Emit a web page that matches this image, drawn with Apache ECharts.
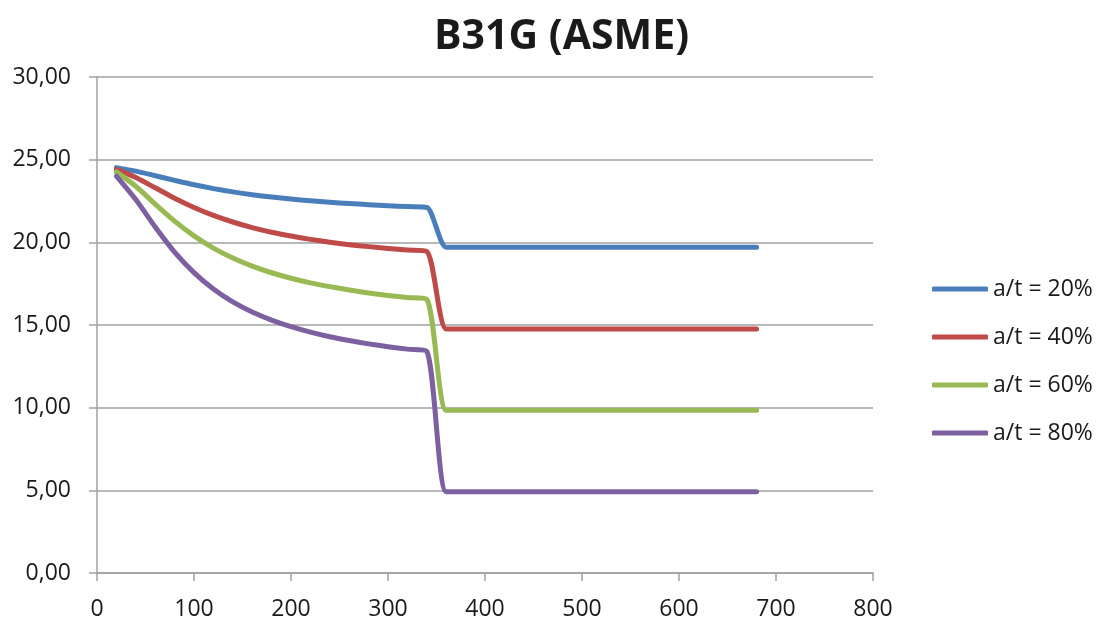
<!DOCTYPE html>
<html>
<head>
<meta charset="utf-8">
<title>B31G (ASME)</title>
<script src="https://cdn.jsdelivr.net/npm/echarts@6/dist/echarts.min.js"></script>
<style>
  html, body { margin: 0; padding: 0; background: #fff; }
  #chart { width: 1098px; height: 621px; }
</style>
</head>
<body>
<div id="chart"></div>
<script>
// defect length (x) - one point every 20
var lengths = [20, 40, 60, 80, 100, 120, 140, 160, 180, 200, 220, 240, 260, 280, 300, 320, 340,
  360, 380, 400, 420, 440, 460, 480, 500, 520, 540, 560, 580, 600, 620, 640, 660, 680]

var at20 = [24.52, 24.31, 24.03, 23.75, 23.48, 23.25, 23.05, 22.88, 22.74, 22.62, 22.51, 22.42, 22.35, 22.28, 22.22, 22.16, 22.11,
  19.70, 19.70, 19.70, 19.70, 19.70, 19.70, 19.70, 19.70, 19.70, 19.70, 19.70, 19.70, 19.70, 19.70, 19.70, 19.70, 19.70]
var at40 = [24.41, 23.92, 23.30, 22.67, 22.11, 21.63, 21.23, 20.89, 20.61, 20.38, 20.18, 20.01, 19.86, 19.74, 19.63, 19.53, 19.45,
  14.76, 14.76, 14.76, 14.76, 14.76, 14.76, 14.76, 14.76, 14.76, 14.76, 14.76, 14.76, 14.76, 14.76, 14.76, 14.76, 14.76]
var at60 = [24.26, 23.39, 22.31, 21.28, 20.39, 19.65, 19.05, 18.56, 18.16, 17.83, 17.55, 17.32, 17.12, 16.94, 16.79, 16.66, 16.55,
  9.84, 9.84, 9.84, 9.84, 9.84, 9.84, 9.84, 9.84, 9.84, 9.84, 9.84, 9.84, 9.84, 9.84, 9.84, 9.84, 9.84]
var at80 = [24.01, 22.59, 20.93, 19.41, 18.17, 17.18, 16.40, 15.79, 15.30, 14.90, 14.57, 14.29, 14.06, 13.86, 13.69, 13.54, 13.41,
  4.92, 4.92, 4.92, 4.92, 4.92, 4.92, 4.92, 4.92, 4.92, 4.92, 4.92, 4.92, 4.92, 4.92, 4.92, 4.92, 4.92]

var seriesNames = ['a/t = 20%', 'a/t = 40%', 'a/t = 60%', 'a/t = 80%']
var seriesColors = ['#4a7ebb', '#be4b48', '#98b954', '#7d60a0']

function pairs(ys) {
  return lengths.map(function (x, i) { return [x, ys[i]] })
}

var font = '"Open Sans", "Noto Sans", sans-serif'
var gray = '#a0a0a0'

var allSeries = [at20, at40, at60, at80].map(function (ys, i) {
  return {
    name: seriesNames[i],
    type: 'line',
    data: pairs(ys),
    smooth: 0.24,
    showSymbol: false,
    lineStyle: { width: 5, color: seriesColors[i], cap: 'round', join: 'round' },
    itemStyle: { color: seriesColors[i] }
  }
})

var chart = echarts.init(document.getElementById('chart'))
chart.setOption({
  animation: false,
  title: {
    text: 'B31G (ASME)',
    left: 434,
    top: 17,
    padding: 0,
    textStyle: { fontFamily: font, fontWeight: 'bold', fontSize: 41, color: '#1a1a1a' }
  },
  legend: {
    orient: 'vertical',
    left: 932,
    top: 277,
    padding: 0,
    itemGap: 24,
    itemWidth: 56,
    itemHeight: 5,
    icon: 'roundRect',
    data: seriesNames,
    textStyle: { fontFamily: font, fontSize: 23, color: '#1a1a1a', lineHeight: 24 }
  },
  grid: { left: 97, right: 225, top: 77, bottom: 46 },
  xAxis: {
    type: 'value',
    min: 0,
    max: 800,
    interval: 100,
    axisLine: { show: true, lineStyle: { color: gray, width: 1.5 } },
    axisTick: { show: true, length: 8, lineStyle: { color: gray, width: 1.5 } },
    splitLine: { show: false },
    axisLabel: { margin: 25, fontFamily: font, fontSize: 23, color: '#1a1a1a' }
  },
  yAxis: {
    type: 'value',
    min: 0,
    max: 30,
    interval: 5,
    axisLine: { show: true, lineStyle: { color: gray, width: 1.5 } },
    axisTick: { show: true, length: 8, lineStyle: { color: gray, width: 1.5 } },
    splitLine: { show: true, lineStyle: { color: gray, width: 1.5 } },
    axisLabel: {
      margin: 26,
      fontFamily: font,
      fontSize: 23,
      color: '#1a1a1a',
      formatter: function (v) { return v.toFixed(2).replace('.', ',') }
    }
  },
  series: allSeries
})
</script>
</body>
</html>
